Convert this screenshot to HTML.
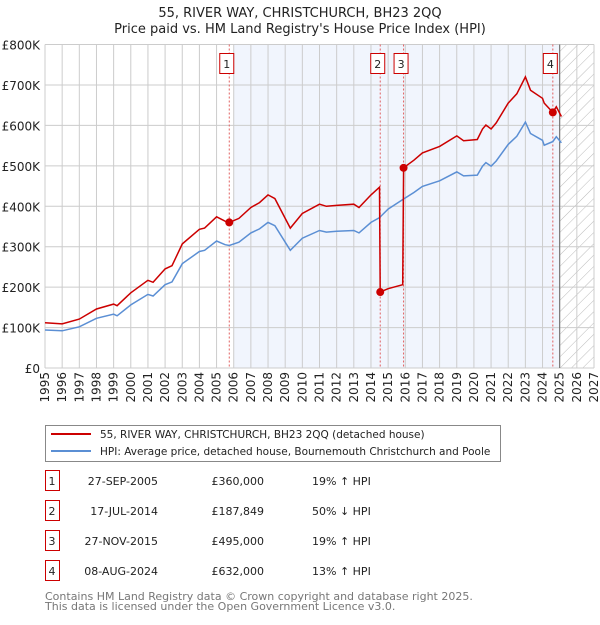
<!DOCTYPE html>
<html><head><meta charset="utf-8"><style>
body{margin:0;background:#fff;font-family:"Liberation Sans","DejaVu Sans",sans-serif;}
svg text{font-family:"DejaVu Sans","Liberation Sans",sans-serif;}
</style></head><body>
<svg id="chart" width="600" height="620" viewBox="0 0 600 620" xmlns="http://www.w3.org/2000/svg">
<defs><pattern id="hatch" width="8" height="8" patternUnits="userSpaceOnUse" patternTransform="rotate(45)"><line x1="0" y1="0" x2="0" y2="8" stroke="#bbb" stroke-width="1"/></pattern></defs>
<text x="300" y="17" text-anchor="middle" font-size="13" fill="#222">55, RIVER WAY, CHRISTCHURCH, BH23 2QQ</text>
<text x="300" y="33" text-anchor="middle" font-size="13" fill="#222">Price paid vs. HM Land Registry's House Price Index (HPI)</text>
<g id="plot"></g>
<g>
<rect x="45.5" y="425.5" width="455" height="36" fill="#fff" stroke="#888"/>
<line x1="51" y1="434" x2="91" y2="434" stroke="#cc0000" stroke-width="2"/>
<text x="100" y="438" font-size="10.5" fill="#222">55, RIVER WAY, CHRISTCHURCH, BH23 2QQ (detached house)</text>
<line x1="51" y1="451" x2="91" y2="451" stroke="#5b8fd4" stroke-width="2"/>
<text x="100" y="455" font-size="10.5" fill="#222">HPI: Average price, detached house, Bournemouth Christchurch and Poole</text>
</g>
<g id="table" font-size="11" fill="#222"></g>
<text x="45" y="600" font-size="11" fill="#777">Contains HM Land Registry data © Crown copyright and database right 2025.</text>
<text x="45" y="610" font-size="11" fill="#777">This data is licensed under the Open Government Licence v3.0.</text>
</svg>
<script>
const hpiYears=[1995,1996,1997,1998,1999,1999.2,2000,2001,2001.3,2002,2002.4,2003,2004,2004.3,2005,2005.5,2005.74,2006.3,2007,2007.5,2008,2008.4,2009,2009.3,2010,2011,2011.4,2012,2013,2013.3,2014,2014.5,2015,2015.9,2016.5,2017,2018,2019,2019.4,2020.2,2020.5,2020.7,2021,2021.3,2022,2022.5,2023,2023.3,2024,2024.1,2024.6,2024.8,2025.1];
const hpiValues=[94,92,102,123,133,129,156,182,178,206,213,258,288,291,314,305,303,311,334,344,360,352,311,291,321,340,336,338,340,334,360,372,393,418,434,449,463,485,475,477,499,508,499,512,553,573,608,580,563,551,560,572,557];
const priceYears=[1995,1996,1997,1998,1999,1999.2,2000,2001,2001.3,2002,2002.4,2003,2004,2004.3,2005,2005.5,2005.74,2006.3,2007,2007.5,2008,2008.4,2009,2009.3,2010,2011,2011.4,2012,2013,2013.3,2014,2014.5,2014.54,2015,2015.85,2015.9,2016.5,2017,2018,2019,2019.4,2020.2,2020.5,2020.7,2021,2021.3,2022,2022.5,2023,2023.3,2024,2024.1,2024.6,2024.8,2025.1];
const priceValues=[112,109,121,146,158,154,186,217,212,245,253,307,343,346,374,363,360,370,397,409,428,419,370,346,382,405,400,402,405,397,428,447,188,196,206,495,514,532,548,574,562,565,591,601,591,606,655,678,720,687,667,655,632,646,622];
const saleLabels=["1","2","3","4"];
const saleYears=[2005.74,2014.54,2015.9,2024.6];
const saleValues=[360,187.849,495,632];
const saleDates=["27-SEP-2005","17-JUL-2014","27-NOV-2015","08-AUG-2024"];
const salePrices=["£360,000","£187,849","£495,000","£632,000"];
const saleHpi=["19% ↑ HPI","50% ↓ HPI","19% ↑ HPI","13% ↑ HPI"];
const yTicks=[0,100,200,300,400,500,600,700,800];
const yTickLabels=["£0","£100K","£200K","£300K","£400K","£500K","£600K","£700K","£800K"];
const xTicks=[1995,1996,1997,1998,1999,2000,2001,2002,2003,2004,2005,2006,2007,2008,2009,2010,2011,2012,2013,2014,2015,2016,2017,2018,2019,2020,2021,2022,2023,2024,2025,2026,2027];

const L=45,R=594,T=44.5,B=368;
const X=y=>L+(y-1995)*(R-L)/32;
const Y=v=>B-v*(B-T)/800;
const NS="http://www.w3.org/2000/svg";
const plot=document.getElementById('plot');
function mk(tag,attrs,parent){const e=document.createElementNS(NS,tag);for(const k in attrs)e.setAttribute(k,attrs[k]);(parent||plot).appendChild(e);return e;}

let e=mk('rect',{x:X(2006),y:T,width:X(2025)-X(2006),height:B-T,fill:'#eef3fc',opacity:0.8});


e=mk('rect',{x:X(2025),y:T,width:R-X(2025),height:B-T,fill:'url(#hatch)'});


xTicks.forEach((t,i)=>{
 let g=mk('line',{x1:X(t),x2:X(t),y1:T,y2:B,stroke:'#ccc','stroke-width':1});
 
 
 let tx=mk('text',{x:0,y:0,'font-size':12,fill:'#222','text-anchor':'end',transform:`translate(${X(t)+4},${B+4}) rotate(-90)`});
 tx.textContent=String(t);
 
 
});
yTicks.forEach((t,i)=>{
 let g=mk('line',{x1:L,x2:R,y1:Y(t),y2:Y(t),stroke:'#ccc','stroke-width':1});
 
 
 let tx=mk('text',{x:40,y:Y(t)+5,'font-size':12,fill:'#222','text-anchor':'end'});
 tx.textContent=yTickLabels[i];
 
 
});
e=mk('line',{x1:X(2025),x2:X(2025),y1:T,y2:B,stroke:'#666','stroke-width':1});


saleYears.forEach((s,i)=>{
 let l=mk('line',{x1:X(s),x2:X(s),y1:T,y2:B,stroke:'#e06060','stroke-width':1,'stroke-dasharray':'2,2'});
 
 
 let r=mk('rect',{x:X(s)-9.5,y:53.5,width:14,height:20,fill:'#fff',stroke:'#cc0000'});
 
 
 let t=mk('text',{x:X(s)-2.5,y:68,'font-size':11,fill:'#222','text-anchor':'middle'});
 t.textContent=saleLabels[i];
 
 
});
const path=(xs,vs)=>xs.map((x,i)=>(i?'L':'M')+X(x).toFixed(1)+','+Y(vs[i]).toFixed(1)).join('');
e=mk('path',{d:path(hpiYears,hpiValues),fill:'none',stroke:'#5b8fd4','stroke-width':1.5});


e=mk('path',{d:path(priceYears,priceValues),fill:'none',stroke:'#cc0000','stroke-width':1.5});


saleYears.forEach((s,i)=>{
 let c=mk('circle',{cx:X(s),cy:Y(saleValues[i]),r:4,fill:'#cc0000'});
 
 
});
const tbl=document.getElementById('table');
saleLabels.forEach((lab,i)=>{
 const y=483+i*30;
 let r=mk('rect',{x:45.5,y:y-12.5,width:14,height:20,fill:'#fff',stroke:'#cc0000'},tbl);
 
 
 const cells=[[52,lab,'middle'],[158,saleDates[i],'end'],[264,salePrices[i],'end'],[312,saleHpi[i],'start']];
 cells.forEach(c=>{
  let t=mk('text',{x:c[0],y:y+2,'text-anchor':c[2],fill:'#222','font-size':11},tbl);
  t.textContent=c[1];
  
  
 });
});
</script>
</body></html>
